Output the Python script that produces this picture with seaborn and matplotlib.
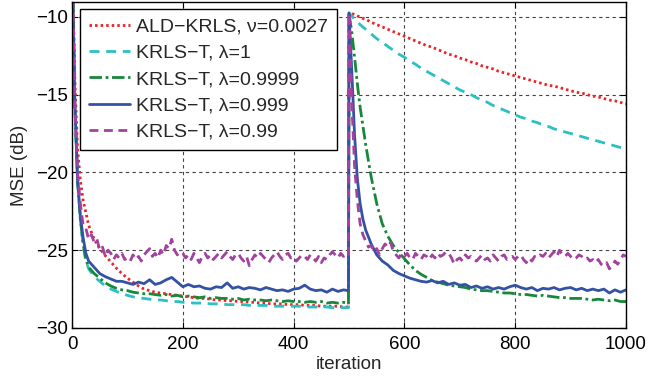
import numpy as np
import pandas as pd
import matplotlib
matplotlib.use("Agg")
import matplotlib.pyplot as plt
import seaborn as sns

# iteration grid (before and after the change at n=500)
iters_pre = [0, 2, 5, 10, 15, 20, 25, 30] + list(range(40, 500, 10)) + [499]
iters_post = [500, 505, 510, 515, 520, 525, 530] + list(range(540, 1001, 10))
# finer grid for the noisy lambda=0.99 curve
iters_pre_f = [0, 2] + list(range(5, 500, 5)) + [499]
iters_post_f = list(range(500, 1001, 5))

# MSE (dB)
ald_pre = [-4.0, -9.0, -14.0, -18.5, -20.5, -21.8, -22.6, -23.4,
           -24.3, -24.9, -25.35, -25.75, -26.15, -26.5, -26.8, -27.05, -27.3, -27.5,
           -27.6, -27.7, -27.75, -27.8, -27.85, -27.9, -27.95, -28.0, -28.05, -28.1,
           -28.1, -28.15, -28.2, -28.2, -28.25, -28.25, -28.3, -28.3, -28.35, -28.35,
           -28.4, -28.4, -28.45, -28.45, -28.45, -28.5, -28.5, -28.5, -28.55, -28.55,
           -28.55, -28.6, -28.6, -28.6, -28.6, -28.65,
           -28.65]
ald_post = [-9.75, -9.8, -9.85, -9.95, -10.0, -10.1, -10.15,
            -10.35, -10.5, -10.65, -10.8, -10.95, -11.1, -11.25, -11.4, -11.55, -11.7,
            -11.85, -11.95, -12.1, -12.25, -12.4, -12.5, -12.65, -12.75, -12.9, -13.0,
            -13.15, -13.25, -13.35, -13.5, -13.6, -13.7, -13.8, -13.9, -14.0, -14.1,
            -14.2, -14.3, -14.4, -14.45, -14.55, -14.65, -14.75, -14.85, -14.9, -15.0,
            -15.1, -15.15, -15.25, -15.35, -15.4, -15.5, -15.6]

l1_pre = [-4.0, -9.5, -15.5, -20.5, -23.0, -24.7, -25.7, -26.2,
          -26.7, -27.0, -27.3, -27.5, -27.65, -27.8, -27.9, -28.0, -28.05, -28.1,
          -28.15, -28.2, -28.2, -28.25, -28.3, -28.3, -28.35, -28.35, -28.4, -28.4,
          -28.4, -28.45, -28.45, -28.45, -28.5, -28.5, -28.5, -28.5, -28.55, -28.55,
          -28.55, -28.55, -28.6, -28.6, -28.6, -28.6, -28.6, -28.6, -28.65, -28.65,
          -28.65, -28.65, -28.65, -28.7, -28.65, -28.7,
          -28.7]
l1_post = [-9.75, -9.95, -10.15, -10.3, -10.5, -10.65, -10.8,
           -11.1, -11.4, -11.65, -11.9, -12.15, -12.4, -12.6, -12.85, -13.05, -13.3,
           -13.5, -13.7, -13.9, -14.1, -14.3, -14.5, -14.7, -14.85, -15.0, -15.2,
           -15.35, -15.5, -15.7, -15.85, -16.0, -16.15, -16.3, -16.45, -16.55, -16.7,
           -16.8, -16.95, -17.05, -17.2, -17.3, -17.4, -17.5, -17.6, -17.7, -17.8,
           -17.9, -18.0, -18.1, -18.2, -18.3, -18.4, -18.5]

l9999_pre = [-4.0, -9.5, -15.5, -20.5, -23.0, -24.6, -25.6, -26.1,
             -26.5, -26.8, -27.1, -27.3, -27.45, -27.55, -27.6, -27.7, -27.75, -27.8,
             -27.8, -27.85, -27.9, -27.85, -27.95, -27.9, -28.0, -27.95, -28.0, -28.05,
             -28.0, -28.1, -28.05, -28.1, -28.1, -28.15, -28.1, -28.2, -28.15, -28.2,
             -28.2, -28.25, -28.2, -28.25, -28.3, -28.25, -28.3, -28.3, -28.35, -28.3,
             -28.35, -28.3, -28.4, -28.35, -28.4, -28.35,
             -28.4]
l9999_post = [-9.75, -11.0, -12.6, -14.3, -15.8, -17.0, -18.2,
              -20.3, -22.0, -23.3, -24.1, -24.7, -25.15, -25.55, -25.95, -26.3, -26.55,
              -26.75, -26.95, -27.05, -27.15, -27.25, -27.3, -27.35, -27.4, -27.5, -27.55,
              -27.6, -27.6, -27.65, -27.7, -27.75, -27.75, -27.8, -27.85, -27.85, -27.9,
              -27.95, -27.9, -27.95, -28.0, -28.05, -28.05, -28.1, -28.1, -28.1, -28.15,
              -28.2, -28.15, -28.2, -28.25, -28.2, -28.3, -28.3]

l999_pre = [-4.0, -9.5, -15.5, -20.5, -22.8, -24.2, -25.2, -25.7,
            -26.1, -26.5, -26.7, -26.85, -27.0, -27.0, -27.1, -27.2, -27.05, -27.15,
            -26.9, -27.2, -27.1, -26.9, -26.75, -27.05, -27.35, -27.2, -27.35, -27.3,
            -27.45, -27.5, -27.35, -27.4, -27.1, -27.45, -27.35, -27.5, -27.4, -27.45,
            -27.55, -27.4, -27.5, -27.6, -27.55, -27.65, -27.5, -27.45, -27.25, -27.5,
            -27.6, -27.55, -27.7, -27.5, -27.65, -27.55,
            -27.6]
l999_post = [-9.75, -13.5, -17.6, -20.4, -22.0, -23.0, -23.7,
             -24.6, -25.3, -25.7, -25.95, -26.3, -26.5, -26.65, -26.8, -26.9, -27.0,
             -27.05, -26.95, -27.1, -27.0, -27.2, -27.1, -27.25, -27.2, -27.4, -27.3,
             -27.45, -27.35, -27.5, -27.4, -27.5, -27.35, -27.25, -27.4, -27.5, -27.4,
             -27.6, -27.45, -27.5, -27.4, -27.55, -27.45, -27.4, -27.55, -27.45, -27.6,
             -27.5, -27.6, -27.5, -27.75, -27.55, -27.7, -27.55]

l99_pre = [-4.0, -9.5, -15.5, -20.0, -22.0, -23.4, -23.6, -24.3, -24.0, -24.5, -24.3,
           -25.0, -24.8, -25.4, -25.0, -25.2, -25.6, -25.3, -25.5, -25.2, -25.6,
           -25.5, -25.7, -25.3, -25.6, -25.4, -25.7, -25.3, -25.1, -24.9, -25.4,
           -25.2, -25.5, -25.0, -25.3, -24.7, -24.9, -24.3, -25.0, -25.3, -25.1,
           -25.2, -25.5, -25.3, -25.6, -25.2, -25.5, -25.8, -25.4, -25.2, -25.5,
           -25.3, -25.6, -25.4, -25.2, -25.5, -25.3, -25.1, -25.4, -25.6, -25.3,
           -25.2, -25.5, -25.7, -25.4, -26.0, -25.6, -25.3, -25.5, -25.2, -25.4,
           -25.6, -25.8, -25.5, -25.3, -25.1, -25.4, -25.6, -25.3, -25.2, -25.5,
           -25.4, -25.7, -25.5, -25.3, -25.4, -25.6, -25.3, -25.5, -25.7, -25.4,
           -25.8, -25.5, -25.6, -25.3, -25.1, -25.3, -25.5, -25.2, -25.4, -25.3,
           -25.4]
l99_post = [-9.75, -15.5, -19.6, -21.8, -23.3, -24.0, -24.4, -24.8, -24.7, -25.1,
            -24.9, -25.3, -24.9, -24.6, -24.8, -24.5, -25.1, -25.3, -25.5, -25.2,
            -25.4, -25.2, -25.5, -25.6, -25.2, -25.4, -25.6, -25.3, -25.4, -25.6,
            -25.3, -25.5, -25.2, -25.4, -25.3, -25.1, -25.2, -25.5, -25.9, -25.6,
            -25.5, -25.7, -25.3, -25.5, -25.4, -25.6, -25.7, -25.5, -25.3, -25.6,
            -25.5, -25.7, -25.3, -25.5, -25.7, -25.4, -25.3, -25.6, -25.5, -25.4,
            -25.6, -25.4, -25.3, -25.6, -25.8, -25.5, -25.7, -25.4, -25.5, -25.3,
            -25.4, -25.2, -25.5, -25.3, -25.1, -25.4, -25.0, -25.3, -25.4, -25.2,
            -25.4, -25.6, -25.5, -25.3, -25.4, -25.6, -25.5, -25.7, -25.6, -25.8,
            -25.6, -25.9, -26.0, -25.8, -26.2, -26.0, -25.7, -25.9, -25.6, -25.3,
            -25.4]

labels = ["ALD\u2212KRLS, \u03bd=0.0027", "KRLS\u2212T, \u03bb=1", "KRLS\u2212T, \u03bb=0.9999",
          "KRLS\u2212T, \u03bb=0.999", "KRLS\u2212T, \u03bb=0.99"]
series = [ald_pre + ald_post, l1_pre + l1_post, l9999_pre + l9999_post,
          l999_pre + l999_post, l99_pre + l99_post]
xs = [iters_pre + iters_post] * 4 + [iters_pre_f + iters_post_f]
colors = ["#ec2227", "#2cc0c4", "#17883a", "#3452a4", "#a1429f"]
styles = [(0, (0.9, 1.1)), (0, (3.6, 2.4)), (0, (4.5, 1.3, 1.0, 1.3)), "-", (0, (3.2, 2.0))]

df = pd.concat([pd.DataFrame({"iteration": x, "mse": s, "algo": lab})
                for x, s, lab in zip(xs, series, labels)])

sns.set_style("ticks")
plt.rcParams['font.family'] = ['Liberation Sans', 'DejaVu Sans']
plt.rcParams['axes.unicode_minus'] = True

fig = plt.figure(figsize=(6.49, 3.79), dpi=100)
ax = fig.add_axes([0.111, 0.1346, 0.8536, 0.86])

for lab, col, ls in zip(labels, colors, styles):
    sns.lineplot(data=df[df.algo == lab], x="iteration", y="mse", color=col,
                 linestyle=ls, linewidth=2.0, label=lab, ax=ax, sort=False)

ax.set_xlim(0, 1000)
ax.set_ylim(-30, -9.05)
ax.set_xticks([0, 200, 400, 600, 800, 1000])
ax.set_yticks([-30, -25, -20, -15, -10])
ax.grid(True, color="#444444", linestyle=(0, (3, 3)), linewidth=0.8)
ax.tick_params(labelsize=13.5, direction="in", length=4, top=True, right=True, colors="black")
ax.tick_params(axis="x", pad=6)
ax.tick_params(axis="y", pad=3)
for sp in ax.spines.values():
    sp.set_linewidth(1.0)
    sp.set_color("black")
ax.set_xlabel("iteration", fontsize=13.5, labelpad=2)
ax.set_ylabel("MSE (dB)", fontsize=13.5, labelpad=6)

leg = ax.legend(loc="upper left", bbox_to_anchor=(0.0144, 0.9785), borderaxespad=0,
                fontsize=14, frameon=True, fancybox=False, framealpha=1,
                edgecolor="black", handlelength=2.1, handletextpad=0.35,
                labelspacing=0.45, borderpad=0.45)
leg.get_frame().set_linewidth(1.0)

fig.savefig("out.png", dpi=100)
